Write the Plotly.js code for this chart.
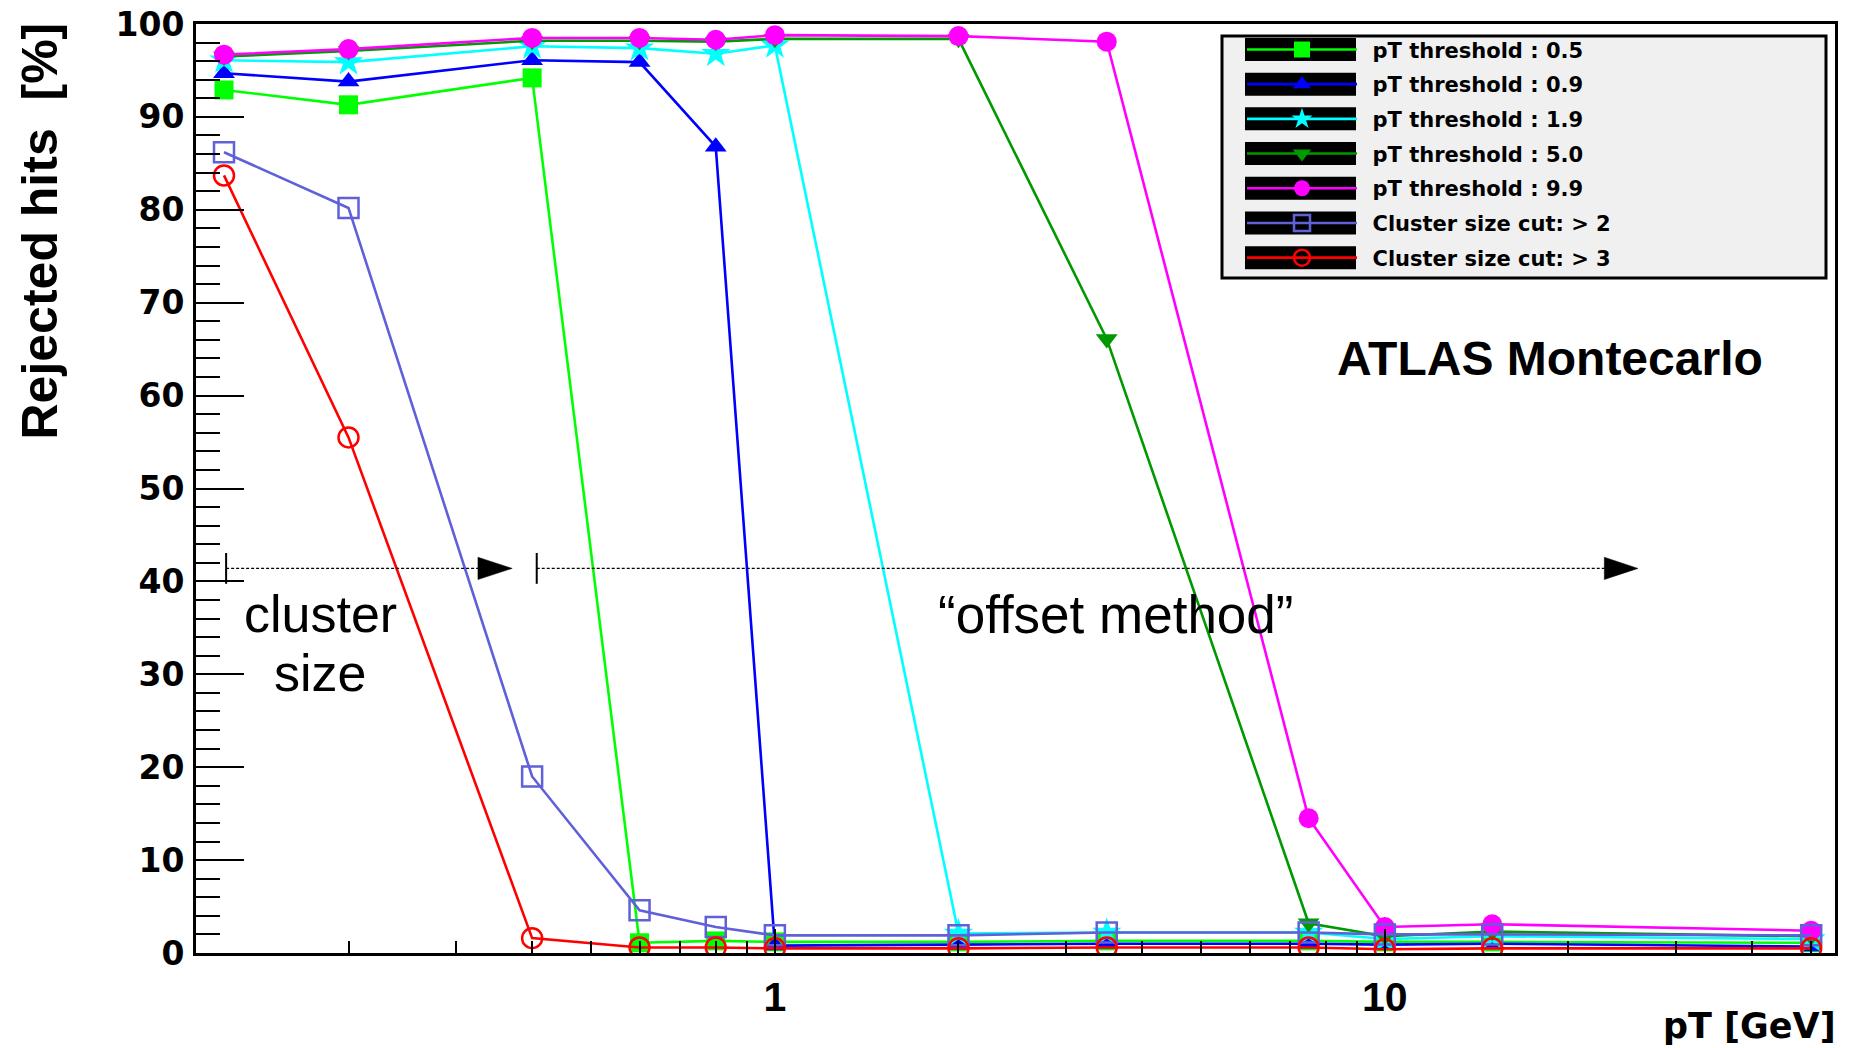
<!DOCTYPE html>
<html><head><meta charset="utf-8">
<script src="https://cdn.plot.ly/plotly-3.0.1.min.js"></script>
<style>html,body{margin:0;padding:0;background:#fff;} #chart{width:1851px;height:1048px;}</style>
</head><body><div id="chart"></div>
<script>
// ---- data ----
const pt = [0.125, 0.2, 0.4, 0.6, 0.8, 1, 2, 3.5, 7.5, 10, 15, 50];
const thr05 = [92.9, 91.3, 94.2, 1.1, 1.3, 1.2, 1.2, 1.3, 1.3, 1.2, 1.2, 1.1];
const thr09 = [94.7, 93.8, 96.1, 95.9, 86.8, 0.8, 0.9, 1.0, 1.0, 0.9, 1.0, 0.7];
const thr19 = [96.1, 95.9, 97.6, 97.4, 96.8, 97.7, 2.1, 2.2, 2.2, 1.5, 1.8, 1.5];
const thr50 = [96.5, 97.1, 98.2, 98.2, 98.1, 98.4, 98.4, 66.1, 3.2, 1.8, 2.3, 1.8];
const thr99 = [96.7, 97.3, 98.5, 98.5, 98.3, 98.8, 98.7, 98.1, 14.5, 2.8, 3.1, 2.4];
const clus2 = [86.2, 80.2, 19.0, 4.6, 2.8, 1.9, 1.9, 2.2, 2.2, 2.0, 2.0, 1.9];
const clus3 = [83.7, 55.5, 1.6, 0.6, 0.6, 0.5, 0.5, 0.6, 0.6, 0.4, 0.5, 0.5];
const seriesNames = ['pT threshold : 0.5', 'pT threshold : 0.9', 'pT threshold : 1.9',
  'pT threshold : 5.0', 'pT threshold : 9.9', 'Cluster size cut: > 2', 'Cluster size cut: > 3'];
const xTickVals = [1, 10];
const xTickText = ['1', '10'];

// region arrows ("cluster size" / "offset method")
const arrowY = 41.4;
const arrowFrom = [0.126, 0.407];
const arrowHeadBase = [0.326, 22.9];
const arrowTip = [0.371, 26.0];
const arrowHalf = 1.2;

// ---- styling ----
const W = 1851, H = 1048;
const M = {l: 196, r: 16, t: 24, b: 95};
const PW = W - M.l - M.r, PH = H - M.t - M.b;
const px = v => (v - M.l) / PW;
const py = v => (H - M.b - v) / PH;

const styles = [
  {color: '#00ff00', symbol: 'square', size: 19},
  {color: '#0000ff', symbol: 'triangle-up', size: 19},
  {color: '#00ffff', symbol: 'star', size: 22},
  {color: '#009900', symbol: 'triangle-down', size: 19},
  {color: '#ff00ff', symbol: 'circle', size: 20},
  {color: '#6060d8', symbol: 'square-open', size: 20},
  {color: '#ff0000', symbol: 'circle-open', size: 20}
];
const ys = [thr05, thr09, thr19, thr50, thr99, clus2, clus3];

const traces = ys.map((y, i) => ({
  x: pt, y: y, type: 'scatter', mode: 'lines+markers', name: '\u2002' + seriesNames[i],
  legendgroup: 'g' + i,
  line: {color: styles[i].color, width: 2.6},
  marker: {symbol: styles[i].symbol, size: styles[i].size, color: styles[i].color,
           line: {color: styles[i].color, width: styles[i].symbol.endsWith('open') ? 2.5 : 0}},
  hoverinfo: 'x+y'
}));

// dotted arrows
for (let k = 0; k < arrowFrom.length; k++) {
  traces.push({x: [arrowFrom[k], arrowHeadBase[k]], y: [arrowY, arrowY], type: 'scatter', mode: 'lines',
    line: {color: 'black', width: 1.3, dash: '3px,2px'}, showlegend: false, hoverinfo: 'skip'});
  traces.push({x: [arrowFrom[k]], y: [arrowY], type: 'scatter', mode: 'markers',
    marker: {symbol: 'line-ns-open', size: 22, color: 'black', line: {color: 'black', width: 2}},
    showlegend: false, hoverinfo: 'skip'});
  traces.push({x: [arrowHeadBase[k], arrowTip[k], arrowHeadBase[k], arrowHeadBase[k]],
    y: [arrowY + arrowHalf, arrowY, arrowY - arrowHalf, arrowY + arrowHalf],
    type: 'scatter', mode: 'lines', fill: 'toself', fillcolor: 'black',
    line: {color: 'black', width: 0.5}, showlegend: false, hoverinfo: 'skip'});
}

// legend decoration (ROOT style box with black symbol background)
const legTop = 29.3, itemH = 30.3, gap = 4.4;
const shapes = [{type: 'rect', xref: 'paper', yref: 'paper', layer: 'above',
  x0: px(1222), x1: px(1826), y0: py(36), y1: py(278),
  fillcolor: '#f0f0f0', line: {color: 'black', width: 3}}];
for (let i = 0; i < seriesNames.length; i++) {
  const c = legTop + 5 + itemH / 2 + i * (itemH + gap);
  shapes.push({type: 'rect', xref: 'paper', yref: 'paper', layer: 'above',
    x0: px(1245), x1: px(1356), y0: py(c - 11.5), y1: py(c + 11.5),
    fillcolor: 'black', line: {width: 0}});
}

const layout = {
  width: W, height: H,
  margin: M,
  paper_bgcolor: 'white', plot_bgcolor: 'white',
  showlegend: true,
  legend: {x: px(1242), xanchor: 'left', y: py(legTop), yanchor: 'top',
    bgcolor: 'rgba(0,0,0,0)', borderwidth: 0, itemwidth: 110, tracegroupgap: gap,
    font: {family: 'DejaVu Sans', size: 21, color: 'black', weight: 'bold'}},
  xaxis: {type: 'log', range: [-0.949, 1.738], showgrid: false, zeroline: false,
    showline: true, linecolor: 'black', linewidth: 3, mirror: true,
    ticks: 'inside', ticklen: 24, tickwidth: 2, tickcolor: 'black',
    tickmode: 'array', tickvals: xTickVals, ticktext: xTickText, ticklabelstandoff: 6,
    tickfont: {family: 'Liberation Sans', size: 41, color: 'black', weight: 'bold'},
    minor: {ticks: 'inside', ticklen: 12, tickwidth: 2, tickcolor: 'black', dtick: 'D1'}},
  yaxis: {range: [0, 100], showgrid: false, zeroline: false,
    showline: true, linecolor: 'black', linewidth: 3, mirror: true,
    ticks: 'inside', ticklen: 48, tickwidth: 2, tickcolor: 'black', dtick: 10, tick0: 0,
    ticklabelstandoff: 2,
    tickfont: {family: 'DejaVu Sans', size: 33, color: 'black', weight: 'bold'},
    minor: {ticks: 'inside', ticklen: 24, tickwidth: 2, tickcolor: 'black', dtick: 2}},
  shapes: shapes,
  annotations: [
    {text: 'Rejected hits\u00a0 [%]', xref: 'paper', yref: 'paper', x: px(40), y: py(21),
     xanchor: 'center', yanchor: 'top', textangle: -90, showarrow: false,
     font: {family: 'Liberation Sans', size: 50, color: 'black', weight: 'bold'}},
    {text: 'pT [GeV]', xref: 'paper', yref: 'paper', x: px(1838), y: py(1026),
     xanchor: 'right', yanchor: 'middle', showarrow: false,
     font: {family: 'DejaVu Sans', size: 35, color: 'black', weight: 'bold'}},
    {text: 'ATLAS Montecarlo', xref: 'paper', yref: 'paper', x: px(1550), y: py(358),
     xanchor: 'center', yanchor: 'middle', showarrow: false,
     font: {family: 'Liberation Sans', size: 48, color: 'black', weight: 'bold'}},
    {text: 'cluster', xref: 'paper', yref: 'paper', x: px(320), y: py(614),
     xanchor: 'center', yanchor: 'middle', showarrow: false,
     font: {family: 'Liberation Sans', size: 52, color: 'black'}},
    {text: 'size', xref: 'paper', yref: 'paper', x: px(319.5), y: py(673),
     xanchor: 'center', yanchor: 'middle', showarrow: false,
     font: {family: 'Liberation Sans', size: 52, color: 'black'}},
    {text: '\u201coffset method\u201d', xref: 'paper', yref: 'paper', x: px(1115.6), y: py(614),
     xanchor: 'center', yanchor: 'middle', showarrow: false,
     font: {family: 'Liberation Sans', size: 53, color: 'black'}}
  ]
};

Plotly.newPlot('chart', traces, layout, {displayModeBar: false, staticPlot: true});
</script></body></html>
